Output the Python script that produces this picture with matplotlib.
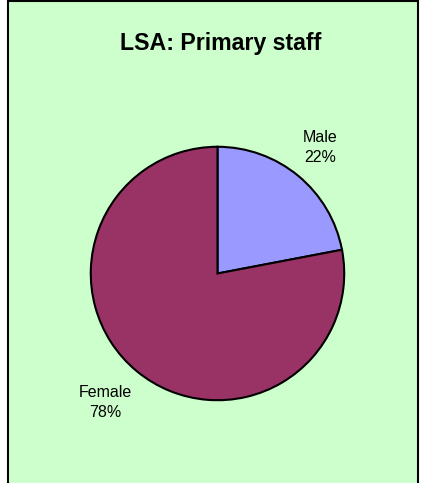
import matplotlib
matplotlib.use("Agg")
from matplotlib import pyplot as plt
from matplotlib.patches import Rectangle

plt.rcParams['font.family'] = ['Liberation Sans', 'DejaVu Sans']

# Data
categories = ["Male", "Female"]
shares = [22, 78]
colours = ["#9999FF", "#993366"]
title = "LSA: Primary staff"

W, H = 421, 483
fig = plt.figure(figsize=(W / 100, H / 100), dpi=100)
fig.patch.set_facecolor("white")

# green chart area with black frame (bottom edge runs off the image)
fig.add_artist(Rectangle((8 / W, -0.05), 410 / W, (H - 1.5) / H + 0.05,
                         transform=fig.transFigure, facecolor="#CCFFCC",
                         edgecolor="black", linewidth=1.5, zorder=-5))

fig.text(221 / W, 1 - 50 / H, title, ha="center", va="baseline",
         fontsize=16.7, fontweight="bold")

# pie axes: centre (217.5, 273.5) px, radius 128 px
cx, cy, r = 217.5, 273.5, 128
ax = fig.add_axes([(cx - r) / W, (H - cy - r) / H, 2 * r / W, 2 * r / H])
ax.pie(shares, colors=colours, startangle=90, counterclock=False, radius=0.99,
       wedgeprops=dict(edgecolor="black", linewidth=1.5))
ax.set_xlim(-1, 1)
ax.set_ylim(-1, 1)
ax.set_aspect("equal")
ax.axis("off")
ax.patch.set_visible(False)

# label positions (px in image, baseline of the percent line) -> data coords
label_px = [(320.5, 162), (105.5, 417)]
for name, val, (px, py) in zip(categories, shares, label_px):
    ax.text((px - cx) / r, (cy - py) / r, f"{name}\n{val}%", ha="center",
            va="baseline", ma="center", fontsize=11.5, linespacing=1.42)

fig.savefig("out.png", dpi=100)
